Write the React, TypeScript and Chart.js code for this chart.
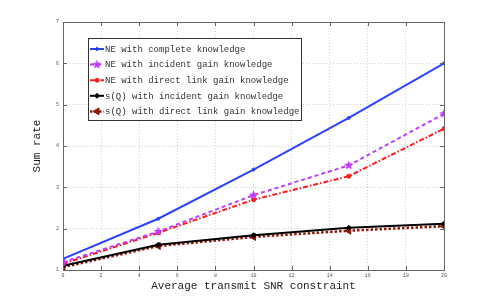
import React, { useEffect, useRef } from "react";
import { Chart, registerables } from "chart.js";
import { drawPoint } from "chart.js/helpers";

Chart.register(...registerables);

const snr = [0, 5, 10, 15, 20];
const neComplete = [1.27, 2.24, 3.43, 4.68, 6.0];
const neIncident = [1.19, 1.93, 2.81, 3.53, 4.78];
const neDirect = [1.15, 1.9, 2.7, 3.27, 4.42];
const sqIncident = [1.1, 1.61, 1.84, 2.02, 2.12];
const sqDirect = [1.07, 1.58, 1.8, 1.95, 2.06];
const seriesNames = [
  "NE with complete knowledge",
  "NE with incident gain knowledge",
  "NE with direct link gain knowledge",
  "s(Q) with incident gain knowledge",
  "s(Q) with direct link gain knowledge",
];
const xTicks = [0, 2, 4, 6, 8, 10, 12, 14, 16, 18, 20];
const yTicks = [1, 2, 3, 4, 5, 6, 7];

const MONO = "'Liberation Mono', 'DejaVu Sans Mono', monospace";

function makeStar(color: string, size: number) {
  const c = document.createElement("canvas");
  c.width = size;
  c.height = size;
  const g = c.getContext("2d")!;
  const cx = size / 2, cy = size / 2, R = size / 2 - 0.5, r = R * 0.45;
  g.beginPath();
  for (let k = 0; k < 10; k++) {
    const ang = -Math.PI / 2 + (k * Math.PI) / 5;
    const rad = k % 2 === 0 ? R : r;
    const px = cx + rad * Math.cos(ang);
    const py = cy + rad * Math.sin(ang);
    if (k === 0) g.moveTo(px, py);
    else g.lineTo(px, py);
  }
  g.closePath();
  g.fillStyle = color;
  g.fill();
  return c;
}

const styles: any[] = [
  { color: "#2a44ff", dash: [] as number[], width: 2, pointStyle: "circle", radius: 1.5, rotation: 0 },
  { color: "#c03cff", dash: [4, 3], width: 2, pointStyle: "star", radius: 5, rotation: 0 },
  { color: "#ff1a1a", dash: [5, 2, 1.5, 2], width: 2, pointStyle: "circle", radius: 2, rotation: 0 },
  { color: "#000000", dash: [] as number[], width: 2, pointStyle: "rectRot", radius: 2.5, rotation: 0 },
  { color: "#8b1a0a", dash: [2.5, 2], width: 2.5, pointStyle: "triangle", radius: 4, rotation: -90 },
];

const seriesData = [neComplete, neIncident, neDirect, sqIncident, sqDirect];

const frameAndLegend = {
  id: "frameAndLegend",
  afterDraw(chart: any) {
    const { ctx, chartArea: a, scales } = chart;
    ctx.save();
    ctx.strokeStyle = "#666";
    ctx.lineWidth = 1;
    ctx.setLineDash([]);
    ctx.strokeRect(a.left + 0.5, a.top + 0.5, a.right - a.left, a.bottom - a.top);
    ctx.beginPath();
    for (const t of xTicks) {
      const x = Math.round(scales.x.getPixelForValue(t)) + 0.5;
      ctx.moveTo(x, a.bottom);
      ctx.lineTo(x, a.bottom - 4);
      ctx.moveTo(x, a.top);
      ctx.lineTo(x, a.top + 4);
    }
    for (const t of yTicks) {
      const y = Math.round(scales.y.getPixelForValue(t)) + 0.5;
      ctx.moveTo(a.left, y);
      ctx.lineTo(a.left + 4, y);
      ctx.moveTo(a.right, y);
      ctx.lineTo(a.right - 4, y);
    }
    ctx.stroke();

    const lx = 88, ly = 38, lw = 213, lh = 82;
    ctx.fillStyle = "#fff";
    ctx.fillRect(lx, ly, lw, lh);
    ctx.strokeStyle = "#333";
    ctx.strokeRect(lx + 0.5, ly + 0.5, lw, lh);
    ctx.font = `9px ${MONO}`;
    ctx.textBaseline = "middle";
    ctx.textAlign = "left";
    seriesNames.forEach((name, i) => {
      const s = styles[i];
      const y = ly + 11 + i * 15.6;
      ctx.strokeStyle = s.color;
      ctx.fillStyle = s.color;
      ctx.lineWidth = s.width;
      ctx.setLineDash(s.dash);
      ctx.beginPath();
      ctx.moveTo(lx + 2, y);
      ctx.lineTo(lx + 16, y);
      ctx.stroke();
      ctx.setLineDash([]);
      ctx.lineWidth = 1;
      drawPoint(
        ctx,
        { pointStyle: s.pointStyle, radius: s.radius, rotation: s.rotation, borderWidth: 1 } as any,
        lx + 9,
        y
      );
      ctx.fillStyle = "#333";
      ctx.fillText(name, lx + 17, y + 0.5);
    });
    ctx.restore();
  },
};

export default function App() {
  const ref = useRef<HTMLCanvasElement>(null);
  useEffect(() => {
    document.body.style.margin = "0";
    styles[1].pointStyle = makeStar("#c03cff", 11);
    const chart = new Chart(ref.current!, {
      type: "line",
      data: {
        datasets: seriesData.map((d, i) => ({
          label: seriesNames[i],
          data: d.map((v, j) => ({ x: snr[j], y: v })),
          borderColor: styles[i].color,
          backgroundColor: styles[i].color,
          borderWidth: styles[i].width,
          borderDash: styles[i].dash,
          pointStyle: styles[i].pointStyle,
          pointRadius: styles[i].radius,
          pointRotation: styles[i].rotation,
          pointBorderWidth: 1,
          tension: 0,
          fill: false,
        })),
      },
      options: {
        animation: false,
        responsive: false,
        layout: { padding: { left: 30, right: 47, top: 22, bottom: 12 } },
        plugins: { legend: { display: false }, tooltip: { enabled: false } },
        scales: {
          x: {
            type: "linear",
            min: 0,
            max: 20,
            afterBuildTicks: (s: any) => {
              s.ticks = xTicks.map((v) => ({ value: v }));
            },
            afterFit: (s: any) => {
              s.height = 23;
            },
            ticks: {
              font: { size: 5, family: MONO },
              color: "#555",
              padding: 3,
              maxRotation: 0,
              autoSkip: false,
            },
            grid: { color: "rgba(0,0,0,0.18)", drawTicks: false, lineWidth: 1 },
            border: { display: false, dash: [1, 2] },
            title: {
              display: true,
              text: "Average transmit SNR constraint",
              font: { size: 11, family: MONO },
              color: "#222",
              padding: { top: 0, bottom: 0 },
            },
          },
          y: {
            type: "linear",
            min: 1,
            max: 7,
            afterBuildTicks: (s: any) => {
              s.ticks = yTicks.map((v) => ({ value: v }));
            },
            afterFit: (s: any) => {
              s.width = 33;
            },
            ticks: {
              font: { size: 5, family: MONO },
              color: "#555",
              padding: 4,
              autoSkip: false,
            },
            grid: { color: "rgba(0,0,0,0.18)", drawTicks: false, lineWidth: 1 },
            border: { display: false, dash: [1, 2] },
            title: {
              display: true,
              text: "Sum rate",
              font: { size: 11, family: MONO },
              color: "#222",
              padding: { top: 0, bottom: 0 },
            },
          },
        },
      },
      plugins: [frameAndLegend],
    } as any);
    return () => chart.destroy();
  }, []);
  return (
    <div style={{ position: "fixed", left: 0, top: 0, width: 491, height: 305, background: "#fff" }}>
      <canvas ref={ref} width={491} height={305} />
    </div>
  );
}
